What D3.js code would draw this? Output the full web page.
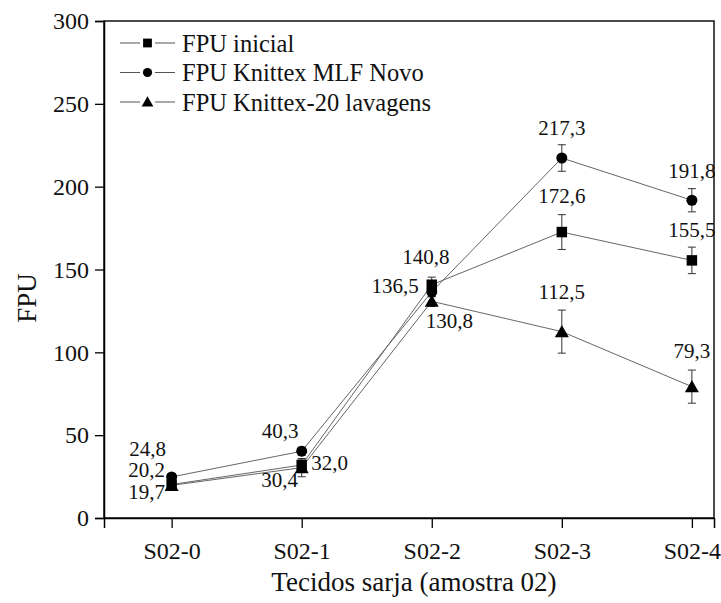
<!DOCTYPE html>
<html><head><meta charset="utf-8">
<script src="https://cdn.jsdelivr.net/npm/d3@7"></script>
<style>body{margin:0;background:#fff}svg{display:block}text{font-family:"Liberation Serif","Times New Roman",serif;fill:#111}</style>
</head><body><svg id="c" width="721" height="603"></svg>
<script>
const categories = ["S02-0","S02-1","S02-2","S02-3","S02-4"];
const seriesNames = ["FPU inicial","FPU Knittex MLF Novo","FPU Knittex-20 lavagens"];
const fpuInicial = [20.2, 32.0, 140.8, 172.6, 155.5];
const fpuNovo = [24.8, 40.3, 136.5, 217.3, 191.8];
const fpuLavagens = [19.7, 30.4, 130.8, 112.5, 79.3];
const errInicial = [2, 3, 4.6, 10.5, 8];
const errNovo = [2, 2.5, 3, 8, 7];
const errLavagens = [2, 5.5, 3, 13, 10];
const yTicks = [0, 50, 100, 150, 200, 250, 300];
const labelsInicial = ["20,2","32,0","140,8","172,6","155,5"];
const labelsNovo = ["24,8","40,3","136,5","217,3","191,8"];
const labelsLavagens = ["19,7","30,4","130,8","112,5","79,3"];
// label placement (layout only): [dx, dy, anchor]
const placeInicial = [[-25,-14.5,"middle"],[9.5,-2,"start"],[-6,-28,"middle"],[0,-36,"middle"],[0,-31,"middle"]];
const placeNovo = [[-24,-28.5,"middle"],[-21.5,-20.5,"middle"],[-13,-6.4,"end"],[0,-30,"middle"],[0,-30,"middle"]];
const placeLavagens = [[-25,6.5,"middle"],[-22,12,"middle"],[-6,19,"start"],[0,-40,"middle"],[0,-36,"middle"]];

const series = [
  {name: seriesNames[0], values: fpuInicial, err: errInicial, labels: labelsInicial, place: placeInicial, sym: d3.symbolSquare},
  {name: seriesNames[1], values: fpuNovo, err: errNovo, labels: labelsNovo, place: placeNovo, sym: d3.symbolCircle},
  {name: seriesNames[2], values: fpuLavagens, err: errLavagens, labels: labelsLavagens, place: placeLavagens, sym: d3.symbolTriangle}
];
const symSize = {0: 110, 1: 95, 2: 85};

const svg = d3.select("#c");
const L = 104, R = 714, T = 21, B = 518;
const x = d3.scaleLinear().domain([-0.52, 4.17]).range([L, R]);
const y = d3.scaleLinear().domain([0, 300]).range([B, T]);

svg.append("rect").attr("x", L).attr("y", T).attr("width", R - L).attr("height", B - T)
  .attr("fill", "none").attr("stroke", "#111").attr("stroke-width", 1.5);

const xAxis = d3.axisBottom(x).tickValues(d3.range(categories.length)).tickFormat(i => categories[i]).tickSize(10).tickPadding(14);
const gx = svg.append("g").attr("transform", `translate(0,${B})`).call(xAxis);
gx.attr("font-family", null);
gx.select(".domain").attr("stroke-width", 1.5);
gx.selectAll(".tick line").attr("stroke-width", 1.3);
gx.selectAll("text").style("font-size", "24px").attr("fill", "#111");

const yAxis = d3.axisLeft(y).tickValues(yTicks).tickSize(9).tickPadding(6);
const gy = svg.append("g").attr("transform", `translate(${L},0)`).call(yAxis);
gy.attr("font-family", null);
gy.select(".domain").attr("stroke-width", 1.5);
gy.selectAll(".tick line").attr("stroke-width", 1.3);
gy.selectAll("text").style("font-size", "24px").attr("fill", "#111");

svg.append("text").attr("x", 414).attr("y", 591).attr("text-anchor", "middle")
  .style("font-size", "27px").text("Tecidos sarja (amostra 02)");
svg.append("text").attr("transform", "translate(36,298) rotate(-90)").attr("text-anchor", "middle")
  .style("font-size", "27px").text("FPU");

const line = d3.line().x((d, i) => x(i)).y(d => y(d));

series.forEach((s, k) => {
  const g = svg.append("g");
  g.append("path").attr("d", line(s.values)).attr("fill", "none").attr("stroke", "#666").attr("stroke-width", 1);
  s.values.forEach((v, i) => {
    const cx = x(i), e = s.err[i];
    const eg = g.append("g").attr("stroke", "#333").attr("stroke-width", 1);
    eg.append("line").attr("x1", cx).attr("x2", cx).attr("y1", y(v + e)).attr("y2", y(v - e));
    eg.append("line").attr("x1", cx - 4).attr("x2", cx + 4).attr("y1", y(v + e)).attr("y2", y(v + e));
    eg.append("line").attr("x1", cx - 4).attr("x2", cx + 4).attr("y1", y(v - e)).attr("y2", y(v - e));
  });
});
series.forEach((s, k) => {
  const g = svg.append("g");
  s.values.forEach((v, i) => {
    const dy = k === 2 ? 1.5 : 0;
    g.append("path").attr("d", d3.symbol().type(s.sym).size(symSize[k])())
      .attr("transform", `translate(${x(i)},${y(v) + dy})`).attr("fill", "#000");
    const p = s.place[i];
    g.append("text").attr("x", x(i) + p[0]).attr("y", y(v) + p[1]).attr("dy", "0.35em")
      .attr("text-anchor", p[2]).style("font-size", "21px").text(s.labels[i]);
  });
});

const lg = svg.append("g");
series.forEach((s, k) => {
  const yy = 43 + k * 29.5;
  lg.append("line").attr("x1", 120).attr("x2", 140).attr("y1", yy).attr("y2", yy).attr("stroke", "#555").attr("stroke-width", 1);
  lg.append("line").attr("x1", 155).attr("x2", 175).attr("y1", yy).attr("y2", yy).attr("stroke", "#555").attr("stroke-width", 1);
  lg.append("path").attr("d", d3.symbol().type(s.sym).size(symSize[k] * 0.7)())
    .attr("transform", `translate(147.5,${yy + (k === 2 ? 1 : 0)})`).attr("fill", "#000");
  lg.append("text").attr("x", 182).attr("y", yy).attr("dy", "0.35em").style("font-size", "24.5px").text(s.name);
});
</script></body></html>
